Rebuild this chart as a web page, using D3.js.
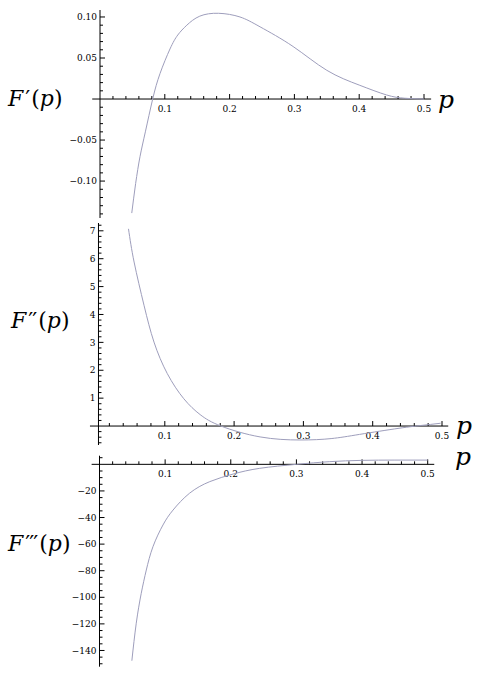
<!DOCTYPE html>
<html>
<head>
<meta charset="utf-8">
<script src="https://cdn.jsdelivr.net/npm/d3@7"></script>
<style>
  body { margin: 0; background: #fff; }
  svg { display: block; font-family: "DejaVu Serif", serif; }
  .tick-label { font-size: 9px; fill: #000; }
  .title { font-size: 22px; fill: #000; }
  .plab { font-size: 25px; fill: #000; font-style: italic; }
</style>
</head>
<body>
<svg id="chart" width="478" height="676"></svg>
<script>
// F'(p)
var p1 = [0.049, 0.055, 0.0617, 0.07, 0.0813, 0.0926, 0.108, 0.12, 0.134, 0.154, 0.183, 0.216, 0.247, 0.298, 0.35, 0.40, 0.442, 0.47, 0.5];
var f1 = [-0.139, -0.103, -0.0704, -0.040, 0, 0.031, 0.061, 0.078, 0.090, 0.101, 0.1045, 0.100, 0.088, 0.064, 0.035, 0.017, 0.005, 0.001, 0];
// F''(p)
var p2 = [0.0476, 0.0557, 0.070, 0.0844, 0.1036, 0.1274, 0.151, 0.181, 0.2375, 0.295, 0.34, 0.381, 0.438, 0.47, 0.498];
var f2 = [7.07, 5.88, 4.33, 3.01, 1.88, 0.98, 0.41, 0, -0.39, -0.5, -0.45, -0.3, -0.08, 0.02, 0.1];
// F'''(p)
var p3 = [0.0493, 0.056, 0.0636, 0.0713, 0.0814, 0.0967, 0.112, 0.137, 0.168, 0.2035, 0.244, 0.3, 0.35, 0.4, 0.45, 0.5];
var f3 = [-147.7, -119.5, -97, -79.5, -62, -45.6, -34.4, -21.8, -13, -7.3, -3, 0, 2, 3, 3.2, 3.2];

var xTicks = [0.1, 0.2, 0.3, 0.4, 0.5];
var yTicks1 = [-0.10, -0.05, 0.05, 0.10];
var yTicks2 = [1, 2, 3, 4, 5, 6, 7];
var yTicks3 = [-140, -120, -100, -80, -60, -40, -20];

var svg = d3.select("#chart");
var curveColor = "#9e9ebc";

var panels = [
    { p: p1, f: f1, yTicks: yTicks1, yMinor: 0.01, fmt: d3.format(".2f"),
      xr: [100, 424], yDom: [-0.145, 0.1085], yr: [218, 10], axisP: 0, xLo: -0.012, xHi: 0.511,
      primes: 1, titleX: 8, titleY: 106, pX: 438, pY: 108 },
    { p: p2, f: f2, yTicks: yTicks2, yMinor: 0.2, fmt: d3.format("d"),
      xr: [95.5, 442], yDom: [-0.68, 7.28], yr: [445, 223], axisP: 0.0043, xLo: -0.008, xHi: 0.509,
      primes: 2, titleX: 11, titleY: 328, pX: 456, pY: 434 },
    { p: p3, f: f3, yTicks: yTicks3, yMinor: 5, fmt: d3.format("d"),
      xr: [99.5, 427.7], yDom: [-152.2, 6.5], yr: [666.7, 455.7], axisP: 0, xLo: -0.012, xHi: 0.51,
      primes: 3, titleX: 8, titleY: 551, pX: 455, pY: 465 }
];

panels.forEach(function(c) {
    var x = d3.scaleLinear().domain([0, 0.5]).range(c.xr);
    var y = d3.scaleLinear().domain(c.yDom).range(c.yr);
    var g = svg.append("g");
    var x0 = x(c.axisP), y0 = y(0);

    // x axis line + ticks (pointing up)
    g.append("line")
        .attr("x1", x(c.xLo)).attr("x2", x(c.xHi))
        .attr("y1", y0).attr("y2", y0)
        .attr("stroke", "#000").attr("stroke-width", 1);
    var minorX = d3.range(1, 26).map(function(i) { return i * 0.02; });
    g.selectAll(".xminor").data(minorX).enter().append("line")
        .attr("x1", function(d) { return x(d); }).attr("x2", function(d) { return x(d); })
        .attr("y1", y0).attr("y2", function(d) {
            return Math.abs(d * 10 - Math.round(d * 10)) < 1e-6 ? y0 - 5 : y0 - 3;
        })
        .attr("stroke", "#000").attr("stroke-width", 1);
    g.selectAll(".xlab").data(xTicks).enter().append("text")
        .attr("class", "tick-label")
        .attr("x", function(d) { return x(d); })
        .attr("y", y0 + 13)
        .attr("text-anchor", "middle")
        .text(function(d) { return d3.format(".1f")(d); });

    // y axis line + ticks (pointing right)
    g.append("line")
        .attr("x1", x0).attr("x2", x0)
        .attr("y1", c.yr[0]).attr("y2", c.yr[1])
        .attr("stroke", "#000").attr("stroke-width", 1);
    var lo = Math.ceil(c.yDom[0] / c.yMinor), hi = Math.floor(c.yDom[1] / c.yMinor);
    var minorY = d3.range(lo, hi + 1).filter(function(i) { return i !== 0; });
    var perMajor = Math.round((c.yTicks[1] - c.yTicks[0]) / c.yMinor);
    g.selectAll(".yminor").data(minorY).enter().append("line")
        .attr("x1", x0)
        .attr("x2", function(i) { return i % perMajor === 0 ? x0 + 5 : x0 + 3; })
        .attr("y1", function(i) { return y(i * c.yMinor); })
        .attr("y2", function(i) { return y(i * c.yMinor); })
        .attr("stroke", "#000").attr("stroke-width", 1);
    g.selectAll(".ylab").data(c.yTicks).enter().append("text")
        .attr("class", "tick-label")
        .attr("x", x0 - 3)
        .attr("y", function(d) { return y(d); })
        .attr("dy", "0.35em")
        .attr("text-anchor", "end")
        .text(function(d) { return c.fmt(d).replace("-", "\u2013"); });

    // curve
    var line = d3.line()
        .x(function(d, i) { return x(c.p[i]); })
        .y(function(d) { return y(d); })
        .curve(d3.curveNatural);
    g.append("path")
        .datum(c.f)
        .attr("d", line)
        .attr("fill", "none")
        .attr("stroke", curveColor)
        .attr("stroke-width", 1);

    // titles
    var t = g.append("text").attr("class", "title")
        .attr("x", c.titleX).attr("y", c.titleY);
    t.append("tspan").attr("font-style", "italic").text("F");
    for (var k = 0; k < c.primes; k++) {
        t.append("tspan").attr("dx", k === 0 ? 2 : -1).text("\u2032");
    }
    t.append("tspan").attr("dx", 1).text("(");
    t.append("tspan").attr("font-style", "italic").text("p");
    t.append("tspan").text(")");

    g.append("text").attr("class", "plab")
        .attr("x", c.pX).attr("y", c.pY)
        .text("p");
});
</script>
</body>
</html>
